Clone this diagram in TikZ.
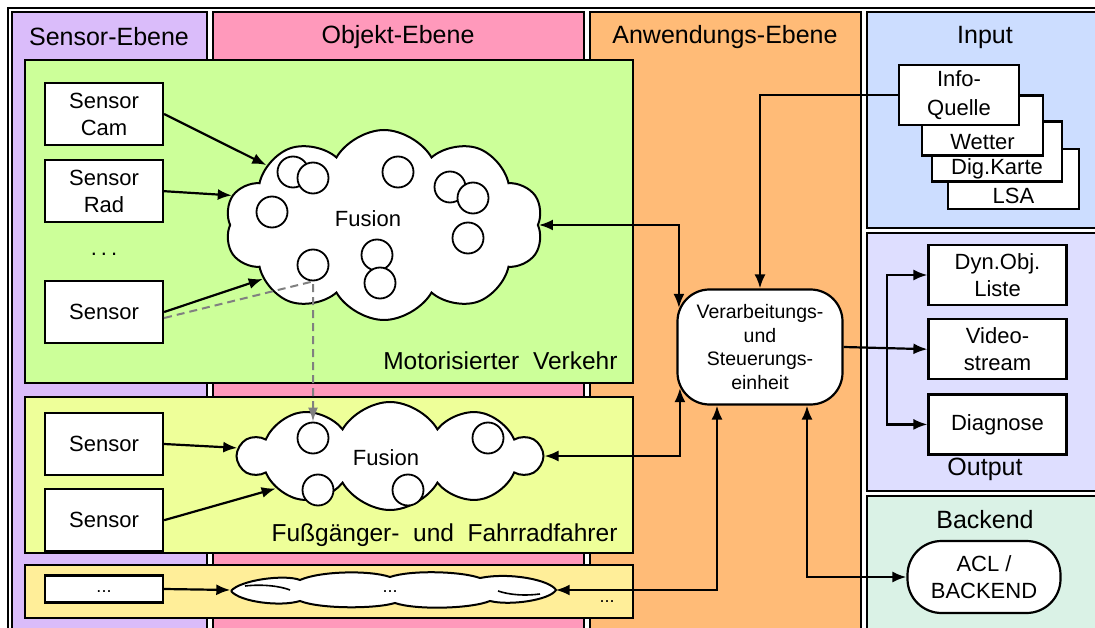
\documentclass[tikz,border=0pt]{standalone}
\usepackage{fontspec}
\setmainfont{Liberation Sans}
\usepackage{xcolor}
\usetikzlibrary{arrows.meta,positioning,shapes.symbols,calc}

\definecolor{sensorcol}{RGB}{218,188,250}
\definecolor{objektcol}{RGB}{255,153,187}
\definecolor{anwendcol}{RGB}{255,187,119}
\definecolor{inputcol}{RGB}{204,221,255}
\definecolor{outputcol}{RGB}{222,222,255}
\definecolor{backendcol}{RGB}{218,242,230}
\definecolor{motorcol}{RGB}{204,255,153}
\definecolor{fussgcol}{RGB}{238,255,153}
\definecolor{restcol}{RGB}{255,238,153}

\begin{document}
\begin{tikzpicture}[
    x=1pt, y=-1pt,
    font=\fontsize{22}{27}\selectfont,
    node distance=12pt,
    ebene/.style={draw, line width=1.8pt},
    schicht/.style={draw, line width=2.2pt},
    kopf/.style={font=\fontsize{25}{28}\selectfont},
    sensorbox/.style={draw, fill=white, line width=2.2pt, align=center, minimum width=118pt, minimum height=62pt, inner sep=2pt},
    stapel/.style={draw, fill=white, line width=2.2pt, minimum height=60pt},
    outbox/.style={draw, fill=white, line width=2.2pt, align=center, minimum width=138pt, minimum height=60pt},
    fusion/.style={cloud, draw, fill=white, line width=2pt, cloud puff arc=120},
    kreis/.style={circle, draw, fill=white, line width=1.8pt, minimum size=31pt, inner sep=0pt},
    steuerung/.style={draw, fill=white, line width=2.2pt, rounded corners=32pt, align=center, minimum width=165pt, minimum height=115pt, inner sep=0pt, font=\fontsize{19.5}{23.5}\selectfont},
    arrow/.style={-{Latex[length=14pt,width=11pt]}, line width=2.2pt},
    biarrow/.style={{Latex[length=14pt,width=11pt]}-{Latex[length=14pt,width=11pt]}, line width=2.2pt},
    dasharrow/.style={-{Latex[length=14pt,width=10pt]}, gray, line width=2pt, dash pattern=on 8pt off 5pt}
  ]
    \clip (0,0) rectangle (1095,628);
    \draw[line width=1.8pt] (8,8) rectangle (1110,650);
    \draw[ebene, fill=sensorcol] (12,12) rectangle (207,645);
    \draw[ebene, fill=objektcol] (213,12) rectangle (584,645);
    \draw[ebene, fill=anwendcol] (590,12) rectangle (861,645);
    \draw[ebene, fill=inputcol] (867,12) rectangle (1105,228);
    \draw[ebene, fill=outputcol] (867,233) rectangle (1105,491);
    \draw[ebene, fill=backendcol] (867,496) rectangle (1105,645);

    \node[kopf] (hsensor) at (109,37) {Sensor-Ebene};
    \node[kopf] (hobjekt) at (398,37) {Objekt-Ebene};
    \node[kopf] (hanwend) at (725,37) {Anwendungs-Ebene};
    \node[kopf] (hinput) at (985,37) {Input};
    \node[kopf] (houtput) at (985,469) {Output};
    \node[kopf] (hbackend) at (985,520) {Backend};

    \draw[schicht, fill=motorcol] (25,60) rectangle (633,383);
    \draw[schicht, fill=fussgcol] (25,397) rectangle (633,553);
    \draw[schicht, fill=restcol] (25,565) rectangle (633,618);

    \node[anchor=base east, font=\fontsize{24.5}{28}\selectfont] (lmotor) at (621,369) {Motorisierter\ \ Verkehr};
    \node[anchor=base east, font=\fontsize{24.5}{28}\selectfont] (lfuss) at (621,541) {Fußgänger-\ \ und\ \ Fahrradfahrer};

    \node[sensorbox] (scam) at (104,114) {Sensor\\Cam};
    \node[sensorbox, below=13pt of scam] (srad) {Sensor\\Rad};
    \node (sdots) at (104,254) {.\hspace{4pt}.\hspace{4pt}.};
    \node[sensorbox] (smot) at (104,312) {Sensor};
    \node[sensorbox] (sfg1) at (104,444) {Sensor};
    \node[sensorbox, below=12pt of sfg1] (sfg2) {Sensor};
    \node[sensorbox, minimum height=27pt, font=\fontsize{18}{20}\selectfont] (srest) at (104,589) {\raisebox{-6pt}{...}};

    \node[fusion, cloud puffs=10, aspect=1.67, minimum width=318pt, minimum height=190pt,
      label={[xshift=-16pt, yshift=6pt]center:Fusion}] (fusA) at (384,225) {};
    \foreach \p [count=\i] in {(293,172),(313,178),(398,172),(450,187),(473,198),(272,212),(468,238),(377,255),(380,283),(313,265)}
      \node[kreis] (ka\i) at \p {};

    \node[fusion, cloud puffs=10, aspect=2.8, minimum width=302pt, minimum height=108pt,
      label={[xshift=-4pt, yshift=-2pt]center:Fusion}] (fusB) at (390,456) {};
    \foreach \p [count=\i] in {(313,438),(488,438),(318,490),(408,490)}
      \node[kreis] (kb\i) at \p {};

    \node[minimum width=325pt, minimum height=24pt, inner sep=0pt] (fusC) at (393,590) {};
    \draw[line width=2pt, fill=white] (231,591)
      .. controls (240,580) and (285,574) .. (300,580)
      .. controls (320,571) and (370,570) .. (390,577)
      .. controls (410,570) and (460,571) .. (480,578)
      .. controls (510,572) and (550,580) .. (556,590)
      .. controls (550,600) and (510,606) .. (490,601)
      .. controls (470,609) and (415,610) .. (395,603)
      .. controls (375,609) and (320,609) .. (300,601)
      .. controls (280,607) and (240,602) .. (231,591);
    \draw[line width=1.6pt] (245,586) .. controls (262,584) and (280,586) .. (290,590);
    \draw[line width=1.6pt] (540,594) .. controls (525,596) and (510,595) .. (498,591);
    \node[font=\fontsize{18}{20}\selectfont] (cdots) at (390,592) {...};
    \node[font=\fontsize{18}{20}\selectfont] (rdots) at (607,602) {...};

    \node[steuerung] (steuer) at (760,347) {Verarbeitungs-\\und\\Steuerungs-\\einheit};

    \node[stapel, minimum width=131pt, label={[anchor=center, yshift=14pt]south:LSA}] (lsa) at (1013.5,179) {};
    \node[stapel, minimum width=130pt, label={[anchor=center, yshift=14pt]south:Dig.Karte}] (karte) at (997,151.5) {};
    \node[stapel, minimum width=121pt, label={[anchor=center, yshift=15pt]south:Wetter}] (wetter) at (982.5,125.5) {};
    \node[stapel, minimum width=120pt, align=center, font=\fontsize{22}{29}\selectfont] (info) at (959,95) {Info-\\Quelle};

    \node[outbox] (dyn) at (997.5,275) {Dyn.Obj.\\Liste};
    \node[outbox, below=12pt of dyn] (video) {Video-\\stream};
    \node[outbox, below=13pt of video] (diag) {Diagnose};
    \node[draw, fill=white, line width=2.2pt, rounded corners=34pt, align=center, minimum width=153pt, minimum height=72pt] (acl) at (984,577) {ACL /\\BACKEND};

    \draw[arrow] (scam.east) -- (fusA.153);
    \draw[arrow] (srad.east) -- (fusA.169);
    \draw[arrow] (smot.east) -- (fusA.204);
    \draw[dasharrow] ([yshift=-6pt]smot.east) -- (ka10.south) -- (kb1.north);
    \draw[arrow] (sfg1.east) -- (fusB);
    \draw[arrow] (sfg2.east) -- (fusB);
    \draw[arrow] (srest.east) -- (fusC.west);

    \draw[biarrow] (fusA.east) -| ([xshift=2.5pt, yshift=-19.5pt]steuer.north west);
    \draw[biarrow] (fusB.east) -| ([xshift=3.5pt, yshift=17.5pt]steuer.south west);
    \draw[biarrow] (fusC.east) -| ([xshift=-43pt]steuer.south);
    \draw[biarrow] ([xshift=47pt]steuer.south) |- (acl.west);
    \draw[arrow] (info.west) -| (steuer.north);

    \coordinate (split) at ($(steuer.east)+(43.5,0)$);
    \draw[arrow] (steuer.east) -- (video.west);
    \draw[arrow] (split) |- (dyn.west);
    \draw[arrow] (split) |- (diag.west);
  \end{tikzpicture}
\end{document}
